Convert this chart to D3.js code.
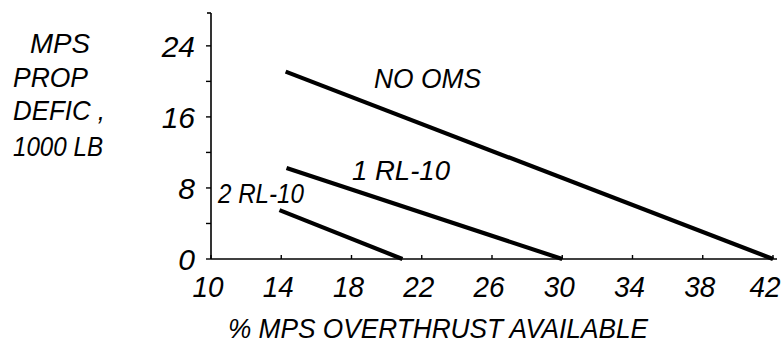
<!DOCTYPE html>
<html><head><meta charset="utf-8">
<script src="https://cdn.jsdelivr.net/npm/d3@7"></script>
<style>
body{margin:0;background:#fff;}
text{font-family:"Liberation Sans",sans-serif;font-style:italic;fill:#000;}
</style></head>
<body><svg id="c" width="782" height="345"></svg>
<script>
const xTicks = [10,14,18,22,26,30,34,38,42];
const yTicks = [0,8,16,24];
const yMinorTicks = [4,12,20];
const seriesNames = ["NO OMS","1 RL-10","2 RL-10"];
const noOms = [[14.25,21.1],[42,0]];
const oneRL = [[14.3,10.25],[30,0]];
const twoRL = [[13.9,5.5],[20.9,0]];
const yTitle = ["MPS","PROP","DEFIC ,","1000 LB"];
const xTitle = "% MPS OVERTHRUST AVAILABLE";

const svg = d3.select("#c");
const x = d3.scaleLinear().domain([10,42]).range([211,773]);
const y = d3.scaleLinear().domain([0,27.7]).range([259,13]);

// axes
svg.append("line").attr("x1",x(10)).attr("x2",x(42)+4).attr("y1",y(0)).attr("y2",y(0)).attr("stroke","#000").attr("stroke-width",1.6);
svg.append("line").attr("x1",x(10)).attr("x2",x(10)).attr("y1",y(0)).attr("y2",y(27.7)).attr("stroke","#000").attr("stroke-width",1.6);
svg.append("line").attr("x1",x(10)).attr("x2",x(10)-4).attr("y1",y(27.7)).attr("y2",y(27.7)).attr("stroke","#000").attr("stroke-width",1.6);

svg.selectAll(".yt").data(yTicks.concat(yMinorTicks)).join("line")
  .attr("x1",x(10)).attr("x2",x(10)-5).attr("y1",d=>y(d)).attr("y2",d=>y(d))
  .attr("stroke","#000").attr("stroke-width",1.4);
svg.selectAll(".xt").data(xTicks).join("line")
  .attr("x1",d=>x(d)).attr("x2",d=>x(d)).attr("y1",y(0)).attr("y2",y(0)-4)
  .attr("stroke","#000").attr("stroke-width",1.4);

svg.selectAll(".yl").data(yTicks).join("text")
  .attr("x",195).attr("y",d=>y(d)+11).attr("text-anchor","end")
  .attr("font-size",30).text(d=>d);
svg.selectAll(".xl").data(xTicks).join("text")
  .attr("x",(d,i)=>i===xTicks.length-1?x(d)-8:x(d)-3).attr("y",297).attr("text-anchor","middle")
  .attr("font-size",30)
  .attr("textLength",d=>String(d).length===2?31:16).attr("lengthAdjust","spacingAndGlyphs")
  .text(d=>d);

// lines
const line = d3.line().x(d=>x(d[0])).y(d=>y(d[1]));
[noOms,oneRL,twoRL].forEach(s=>{
  svg.append("path").attr("d",line(s)).attr("fill","none").attr("stroke","#000").attr("stroke-width",4.2);
});

// series labels
const lab = [[seriesNames[0],374,88,107],[seriesNames[1],352,180,98],[seriesNames[2],218,203,86]];
svg.selectAll(".sl").data(lab).join("text")
  .attr("x",d=>d[1]).attr("y",d=>d[2]).attr("font-size",28)
  .attr("textLength",d=>d[3]).attr("lengthAdjust","spacingAndGlyphs").text(d=>d[0]);

// y title
const yt = [[30,53,60],[13,87,75],[13,120,92],[13,156,90]];
svg.selectAll(".yti").data(yTitle).join("text")
  .attr("x",(d,i)=>yt[i][0]).attr("y",(d,i)=>yt[i][1]).attr("font-size",28)
  .attr("textLength",(d,i)=>yt[i][2]).attr("lengthAdjust","spacingAndGlyphs").text(d=>d);

svg.append("text").attr("x",228).attr("y",338).attr("font-size",28)
  .attr("textLength",420).attr("lengthAdjust","spacingAndGlyphs").text(xTitle);
</script></body></html>
